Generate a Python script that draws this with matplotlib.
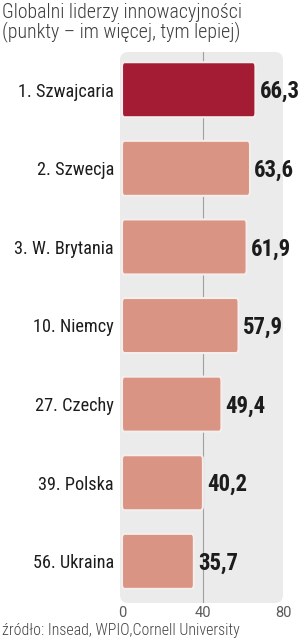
import matplotlib as mpl
import matplotlib.pyplot as plt
import numpy as np
from matplotlib import font_manager as fm
from matplotlib.patches import FancyBboxPatch

# chart data
title_lines = ["Globalni liderzy innowacyjności", "(punkty – im więcej, tym lepiej)"]
countries = ["1. Szwajcaria", "2. Szwecja", "3. W. Brytania", "10. Niemcy",
             "27. Czechy", "39. Polska", "56. Ukraina"]
scores = [66.3, 63.6, 61.9, 57.9, 49.4, 40.2, 35.7]
score_labels = ["66,3", "63,6", "61,9", "57,9", "49,4", "40,2", "35,7"]
x_ticks = [0, 40, 80]
source = "źródło: Insead, WPIO,Cornell University"

# colours
highlight = "#a31c33"
normal = "#da9483"
panel = "#ebebeb"

# pick a condensed family that is installed
avail = {f.name for f in fm.fontManager.ttflist}
def pick(cands):
    for c in cands:
        if c in avail:
            return c
    return "DejaVu Sans"

cond = pick(["Roboto Condensed", "Fira Sans Condensed", "PT Sans Narrow",
             "Archivo Narrow", "IBM Plex Sans Condensed", "Open Sans Condensed"])
fam = [cond, "DejaVu Sans"]
fam_ticks = [pick(["Roboto", "Lato"]), "DejaVu Sans"]

W, H = 301, 640
fig = plt.figure(figsize=(W / 100, H / 100), dpi=100)
renderer = fig.canvas.get_renderer()

def fit(txt, target_px):
    '''scale a text so its width matches the width measured on the reference'''
    w = txt.get_window_extent(renderer).width
    txt.set_fontsize(txt.get_fontsize() * target_px / w)
    return txt.get_fontsize()

# axes placed in pixels: panel from x=120..283, y=52..603
ax = fig.add_axes([120 / W, (H - 603) / H, 163 / W, 551 / H])
ax.set_facecolor("none")
ax.set_xlim(-1, 80)
ax.set_ylim(6.53, -0.48)

# rounded grey panel
bg = FancyBboxPatch((0, 0), 1, 1, boxstyle="round,pad=0,rounding_size=0.05",
                    transform=ax.transAxes, facecolor=panel, edgecolor="none",
                    mutation_aspect=163 / 551, zorder=0, clip_on=False)
ax.add_patch(bg)
ax.axvline(40, color="#a0a0a0", linewidth=0.8, zorder=1)

# sizes fitted once on the first row
probe = fig.text(0, 0, countries[0], fontsize=14, family=fam)
name_fs = fit(probe, 96)
probe.remove()
probe = fig.text(0, 0, score_labels[0], fontsize=16, family=fam, fontweight="bold")
val_fs = fit(probe, 40)
probe.remove()

bar_h = 0.70
for i, (name, val, lab) in enumerate(zip(countries, scores, score_labels)):
    col = highlight if i == 0 else normal
    bar = FancyBboxPatch((0, i - bar_h / 2), val, bar_h,
                         boxstyle="round,pad=0,rounding_size=1.2",
                         mutation_aspect=0.045,
                         facecolor=col, edgecolor="#f4eeec", linewidth=1.5,
                         zorder=2)
    ax.add_patch(bar)
    ax.annotate(lab, xy=(val, i), xytext=(3.0, -6.0), textcoords="offset points",
                ha="left", va="baseline", fontsize=val_fs, fontweight="bold",
                color="#1c1c1c", family=fam)
    ax.annotate(name, xy=(114, i), xycoords=("figure pixels", "data"),
                xytext=(0, -4.9), textcoords="offset points",
                ha="right", va="baseline", fontsize=name_fs,
                color="#1c1c1c", family=fam)

for s in ax.spines.values():
    s.set_visible(False)
ax.set_yticks([])
ax.set_xticks(x_ticks)
ax.set_xticklabels([str(t) for t in x_ticks], family=fam_ticks, fontsize=10.5,
                   color="#5a5a5a")
ax.tick_params(axis="x", length=0, pad=2.5)

t1 = fig.text(2 / W, 1 - 18.5 / H, title_lines[0], ha="left", va="baseline",
              fontsize=13, color="#3c3c3c", family=fam, fontweight="light")
title_fs = fit(t1, 239)
fig.text(2 / W, 1 - 37 / H, title_lines[1], ha="left", va="baseline",
         fontsize=title_fs, color="#3c3c3c", family=fam, fontweight="light")

src = fig.text(2 / W, 1 - 635 / H, source, ha="left", va="baseline",
               fontsize=10, color="#444444", family=fam, fontweight="light")
fit(src, 238)

fig.savefig("out.png", dpi=100)
